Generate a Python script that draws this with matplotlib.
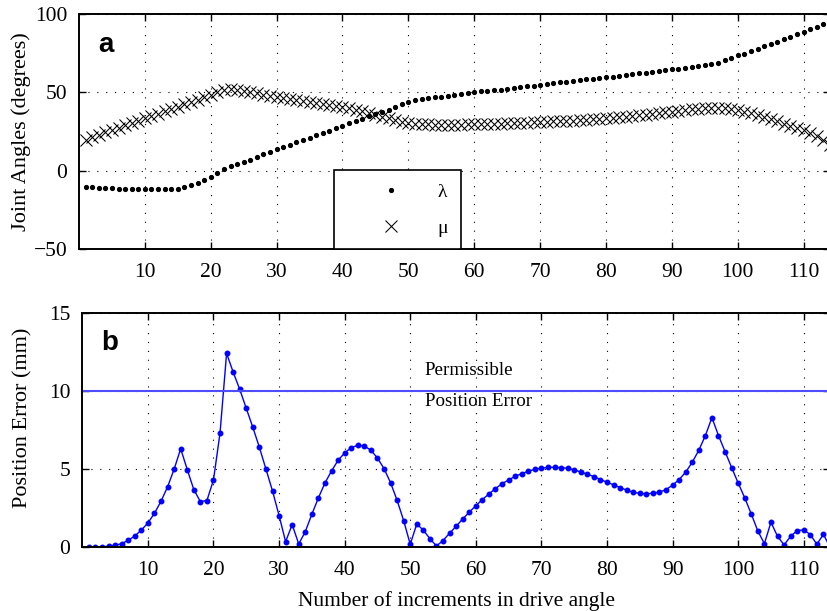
import matplotlib
matplotlib.use("Agg")
import matplotlib.pyplot as plt
import numpy as np

plt.rcParams['font.family'] = ['Liberation Serif', 'DejaVu Serif']

# increments 1..114
lam = [-10.1, -10.5, -10.7, -10.9, -11.1, -11.3, -11.5, -11.5, -11.8, -11.8,
       -11.8, -11.5, -11.5, -11.5, -11.3, -10.5, -9.2, -7.7, -5.8, -3.7,
       -1.3, 1.2, 3.1, 4.2, 5.7, 7.2, 8.6, 10.6, 12.3, 14.0,
       15.0, 16.7, 18.2, 19.7, 21.2, 22.7, 24.2, 25.6, 27.1, 28.8,
       30.5, 31.8, 33.3, 34.8, 36.3, 37.7, 38.8, 40.5, 42.4, 43.9,
       45.2, 45.8, 46.3, 46.9, 47.3, 47.9, 48.3, 49.0, 49.4, 50.1,
       50.7, 50.9, 51.4, 51.8, 52.2, 52.8, 53.5, 53.9, 54.3, 55.0,
       55.6, 56.0, 56.5, 56.7, 57.3, 57.9, 58.4, 58.8, 59.2, 59.9,
       60.1, 60.7, 61.1, 61.8, 62.2, 62.7, 63.2, 63.7, 64.1, 64.8,
       65.2, 65.6, 66.2, 66.9, 67.3, 68.1, 69.0, 70.5, 72.0, 73.7,
       74.7, 76.2, 77.7, 79.4, 80.9, 82.4, 84.0, 85.5, 87.0, 88.6,
       90.2, 91.8, 93.5, 95.5]

mu = [20.0, 21.5, 23.0, 24.5, 26.0, 27.5, 29.0, 30.5, 32.0, 33.5,
      35.0, 36.5, 38.0, 39.5, 41.0, 42.5, 44.0, 45.5, 47.0, 48.5,
      50.0, 51.3, 52.0, 51.8, 51.0, 50.3, 49.5, 48.7, 47.8, 47.0,
      46.3, 45.6, 45.0, 44.4, 43.8, 43.2, 42.6, 42.0, 41.4, 40.8,
      40.0, 39.0, 38.0, 37.0, 35.8, 34.6, 33.4, 32.3, 31.3, 30.6,
      30.1, 29.8, 29.6, 29.5, 29.4, 29.4, 29.4, 29.5, 29.6, 29.7,
      29.8, 29.9, 30.0, 30.2, 30.3, 30.5, 30.6, 30.8, 30.9, 31.1,
      31.3, 31.5, 31.7, 31.9, 32.1, 32.3, 32.6, 32.9, 33.2, 33.5,
      33.8, 34.2, 34.6, 35.0, 35.4, 35.8, 36.3, 36.8, 37.3, 37.8,
      38.3, 38.8, 39.3, 39.7, 40.0, 40.2, 40.2, 39.9, 39.4, 38.7,
      37.8, 36.7, 35.4, 34.1, 32.8, 31.5, 30.2, 28.8, 27.3, 25.8,
      24.0, 22.0, 19.5, 16.5]

err = [0.0, 0.02, 0.03, 0.07, 0.13, 0.23, 0.45, 0.72, 1.1, 1.55,
       2.17, 2.94, 3.86, 4.99, 6.3, 4.97, 3.69, 2.92, 2.99, 4.3,
       7.31, 12.4, 11.2, 10.1, 8.88, 7.67, 6.39, 5.0, 3.6, 2.03,
       0.36, 1.45, 0.21, 1.0, 2.11, 3.16, 4.11, 4.88, 5.56, 6.03,
       6.37, 6.52, 6.48, 6.2, 5.71, 5.03, 4.13, 3.0, 1.7, 0.19,
       1.49, 1.09, 0.55, 0.08, 0.43, 0.9, 1.34, 1.81, 2.24, 2.66,
       3.05, 3.41, 3.75, 4.07, 4.3, 4.54, 4.71, 4.86, 4.99, 5.05,
       5.11, 5.11, 5.09, 5.05, 4.94, 4.82, 4.67, 4.52, 4.33, 4.16,
       3.99, 3.82, 3.65, 3.52, 3.44, 3.41, 3.46, 3.52, 3.69, 3.97,
       4.33, 4.8, 5.44, 6.2, 7.14, 8.29, 7.14, 6.12, 5.1, 4.11,
       3.16, 2.13, 1.04, 0.23, 1.6, 0.7, 0.15, 0.7, 1.07, 1.11,
       0.81, 0.19, 0.83, 0.0]

n = np.arange(1, len(err) + 1)
permissible = 10
xticks = list(range(10, 111, 10))

fig = plt.figure(figsize=(8.28, 6.11), dpi=100)
ax1 = fig.add_axes([0.0954, 0.592, 0.907, 0.385])
ax2 = fig.add_axes([0.0994, 0.1043, 0.903, 0.384])

def style(ax):
    ax.set_xlim(0, 114)
    ax.set_xticks(xticks)
    ax.tick_params(direction='in', top=True, right=True, length=5, width=1,
                   labelsize=15.5)
    ax.tick_params(axis='x', pad=10)
    ax.tick_params(axis='y', pad=8.5)
    ax.grid(True, color='black', linestyle=(0, (1, 7)), linewidth=0.8)
    for s in ax.spines.values():
        s.set_linewidth(1.4)

# panel a
ax1.plot(n, lam, '.', color='black', markersize=5.5, label='λ')
ax1.plot(n, mu, 'x', color='black', markersize=8, markeredgewidth=0.75, label='μ')
ax1.set_ylim(-50, 100)
ax1.set_yticks([-50, 0, 50, 100])
style(ax1)
ax1.set_ylabel('Joint Angles (degrees)', fontsize=16, labelpad=2)
ax1.text(0.025, 0.925, 'a', transform=ax1.transAxes, fontsize=20,
         fontweight='bold', family='Liberation Sans', va='top')
leg = ax1.legend(loc='lower left', bbox_to_anchor=(0.339, 0.0), borderaxespad=0,
                 fontsize=14, handlelength=4.6, handletextpad=0.1,
                 labelspacing=0.95, borderpad=0.65, fancybox=False,
                 edgecolor='black', framealpha=1)
leg.get_frame().set_linewidth(1.2)

# panel b
ax2.plot(n, err, '-', color='#0000ff', linewidth=1, marker='.', markersize=6.5)
ax2.axhline(permissible, color='#4d4dff', linewidth=1.5)
ax2.set_ylim(0, 15)
ax2.set_yticks([0, 5, 10, 15])
style(ax2)
ax2.set_ylabel('Position Error (mm)', fontsize=16, labelpad=12)
ax2.yaxis.label.set_y(0.553)
ax2.set_xlabel('Number of increments in drive angle', fontsize=15.5, labelpad=8)
ax2.text(52.2, 11.27, 'Permissible', fontsize=13.7, va='center')
ax2.text(52.2, 9.32, 'Position Error', fontsize=13.7, va='center')
ax2.text(0.025, 0.925, 'b', transform=ax2.transAxes, fontsize=20,
         fontweight='bold', family='Liberation Sans', va='top')

fig.savefig('out.png', dpi=100)
